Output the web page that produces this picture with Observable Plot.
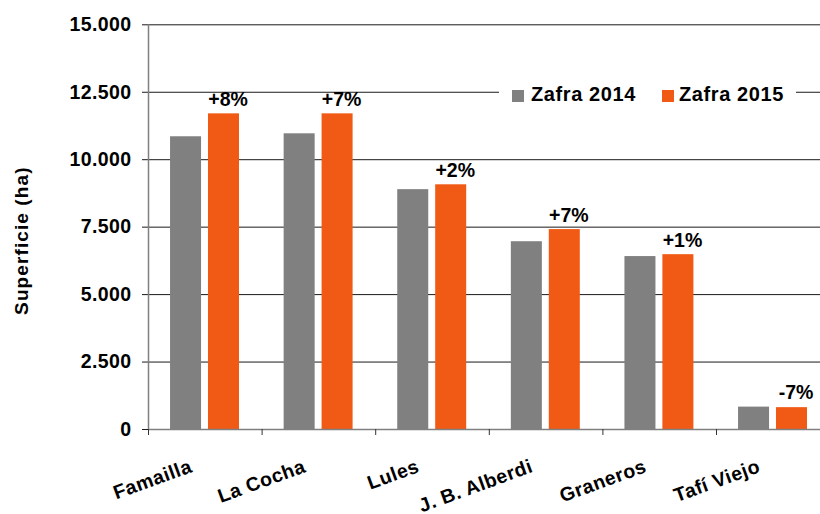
<!DOCTYPE html>
<html><head><meta charset="utf-8">
<script src="https://cdn.jsdelivr.net/npm/d3@7"></script>
<script src="https://cdn.jsdelivr.net/npm/@observablehq/plot@0.6"></script>
<style>
body{margin:0;background:#fff;overflow:hidden;font-family:"Liberation Sans",Arial,sans-serif;}
#wrap{position:relative;width:820px;height:514px;overflow:hidden;}
#legend{position:absolute;left:499px;top:80px;}
</style>
</head><body>
<div id="wrap"></div>
<script>
// ---- data ----
const categories = ["Famailla", "La Cocha", "Lules", "J. B. Alberdi", "Graneros", "Tafí Viejo"];
const seriesNames = ["Zafra 2014", "Zafra 2015"];
const zafra2014 = [10850, 10960, 8890, 6960, 6410, 830];
const zafra2015 = [11700, 11700, 9070, 7410, 6480, 810];
const changeLabels = ["+8%", "+7%", "+2%", "+7%", "+1%", "-7%"];
const yTicks = [0, 2500, 5000, 7500, 10000, 12500, 15000];
const yTickLabels = ["0", "2.500", "5.000", "7.500", "10.000", "12.500", "15.000"];
const yTitle = "Superficie (ha)";
const colors = ["#808080", "#F15A15"];

// ---- table ----
const rows = categories.flatMap((c, i) => [
  {i, cat: c, series: seriesNames[0], value: zafra2014[i]},
  {i, cat: c, series: seriesNames[1], value: zafra2015[i]}
]);
const labelRows = categories.map((c, i) => ({i, value: Math.max(zafra2014[i], zafra2015[i]), text: changeLabels[i]}));
const offs = {[seriesNames[0]]: 0.194, [seriesNames[1]]: 0.528};
const bw = 0.273;

const plot = Plot.plot({
  width: 820, height: 514,
  marginLeft: 148, marginRight: -9.6, marginTop: 24.3, marginBottom: 85,
  x: {domain: [0, categories.length], axis: null},
  y: {domain: [0, 15000], axis: null},
  color: {domain: seriesNames, range: colors},
  style: {fontFamily: "'Liberation Sans', Arial, sans-serif", fontWeight: "bold", color: "#000", background: "#fff", overflow: "visible"},
  marks: [
    Plot.ruleY(yTicks, {stroke: "#1a1a1a", strokeWidth: 1}),
    Plot.axisY({ticks: yTicks, tickSize: 6, tickPadding: 11, tickFormat: (d) => yTickLabels[yTicks.indexOf(d)], fontSize: 19.5, label: null, stroke: "#1a1a1a"}),
    Plot.rectY(rows, {x1: d => d.i + offs[d.series], x2: d => d.i + offs[d.series] + bw, y: "value", fill: "series"}),
    Plot.ruleY([0], {stroke: "#808080", strokeWidth: 1.5}),
    Plot.ruleX([0], {stroke: "#808080", strokeWidth: 1.5}),
    Plot.axisX({ticks: d3.range(categories.length), tickSize: 6, tickFormat: () => "", label: null, stroke: "#333"}),
    Plot.text(categories, {x: (d, i) => i + 0.5, frameAnchor: "bottom", dx: -12, dy: 42, rotate: -20, textAnchor: "end", lineAnchor: "bottom", fontSize: 19.5, fill: "#000"}),
    Plot.text(labelRows, {x: d => d.i + 0.665, y: "value", text: "text", dx: 4, dy: -8, lineAnchor: "bottom", fontSize: 19.5, fill: "#000"}),
    Plot.text([yTitle], {frameAnchor: "left", dx: -127, dy: 13.5, rotate: -90, textAnchor: "middle", lineAnchor: "middle", fontSize: 19, fill: "#000"})
  ]
});
const wrap = document.getElementById("wrap");
wrap.appendChild(plot);

// letter spacing to match the wide rendering of the reference
const textGroups = d3.select(plot).selectAll('g[aria-label="text"]').nodes();
if (textGroups[0]) textGroups[0].style.letterSpacing = "0.5px";
if (textGroups[1]) textGroups[1].style.letterSpacing = "0px";
if (textGroups[2]) textGroups[2].style.letterSpacing = "1.1px";
d3.select(plot).selectAll('g[aria-label="y-axis tick label"]').style("letter-spacing", "0.4px");

// legend (overlay, white box interrupting the gridline)
const lg = d3.select(wrap).append("svg").attr("id", "legend").attr("width", 297).attr("height", 25);
lg.append("rect").attr("width", 297).attr("height", 25).attr("fill", "#fff");
const items = [{x: 13, tx: 32}, {x: 163, tx: 180}];
seriesNames.forEach((s, k) => {
  lg.append("rect").attr("x", items[k].x).attr("y", 10).attr("width", 12).attr("height", 12).attr("fill", colors[k]);
  lg.append("text").attr("x", items[k].tx).attr("y", 21).text(s)
    .attr("font-family", "'Liberation Sans', Arial, sans-serif").attr("font-weight", "bold")
    .attr("font-size", 20).attr("letter-spacing", "0.6px").attr("fill", "#000");
});
</script>
</body></html>
